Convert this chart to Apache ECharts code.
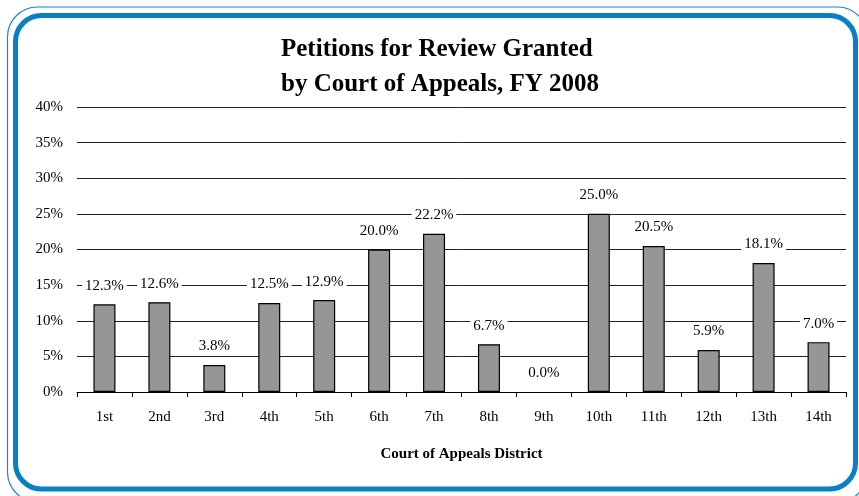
<!DOCTYPE html>
<html><head><meta charset="utf-8">
<script src="https://cdn.jsdelivr.net/npm/echarts@6/dist/echarts.min.js"></script>
<style>html,body{margin:0;padding:0;background:#fff}#c{width:859px;height:496px}</style>
</head><body><div id="c"></div>
<script>
const categories = ['1st','2nd','3rd','4th','5th','6th','7th','8th','9th','10th','11th','12th','13th','14th'];
const values = [12.3, 12.6, 3.8, 12.5, 12.9, 20.0, 22.2, 6.7, 0.0, 25.0, 20.5, 5.9, 18.1, 7.0];
const yTicks = [0, 5, 10, 15, 20, 25, 30, 35, 40];
const titleLines = ['Petitions for Review Granted', 'by Court of Appeals, FY 2008'];
const xAxisTitle = 'Court of Appeals District';

const chart = echarts.init(document.getElementById('c'));
const F = 'Liberation Serif';
chart.setOption({
  animation: false,
  textStyle: { fontFamily: F },
  title: {
    text: titleLines.join('\n'),
    left: 276, top: 27,
    textAlign: 'left',
    textStyle: { fontFamily: F, fontSize: 25, fontWeight: 'bold', color: '#000', lineHeight: 35, align: 'center' }
  },
  graphic: [
    { type: 'rect', shape: { x: 7.5, y: 7, width: 860, height: 495, r: 30 }, style: { fill: 'none', stroke: '#1a86c8', lineWidth: 1.2 }, silent: true },
    { type: 'rect', shape: { x: 15.5, y: 15.5, width: 840, height: 473.5, r: 26 }, style: { fill: 'none', stroke: '#0a7fc4', lineWidth: 5 }, silent: true }
  ],
  grid: { left: 77, right: 13, top: 107, bottom: 104 },
  xAxis: {
    type: 'category', data: categories,
    name: xAxisTitle, nameLocation: 'middle', nameGap: 55,
    nameTextStyle: { fontFamily: F, fontSize: 15, fontWeight: 'bold', color: '#000' },
    axisLine: { lineStyle: { color: '#000', width: 1 } },
    axisTick: { show: true, length: 5, lineStyle: { color: '#000' } },
    axisLabel: { fontFamily: F, fontSize: 15, color: '#000', margin: 18 }
  },
  yAxis: {
    type: 'value', min: 0, max: 40, interval: 5,
    axisLine: { show: false }, axisTick: { show: false },
    axisLabel: { fontFamily: F, fontSize: 15, color: '#000', margin: 14,
      formatter: v => yTicks.includes(v) ? v + '%' : '' },
    splitLine: { lineStyle: { color: '#222', width: 1 } }
  },
  series: [{
    type: 'bar',
    data: values.map(v => v === 0 ? { value: v, itemStyle: { borderWidth: 0 } } : v),
    barWidth: 22,
    itemStyle: { color: '#969696', borderColor: '#000', borderWidth: 1.2 },
    label: {
      show: true, position: 'top', distance: 10,
      formatter: p => p.value.toFixed(1) + '%',
      fontFamily: F, fontSize: 15, color: '#000',
      backgroundColor: '#fff', padding: [1, 3]
    }
  }]
});
</script></body></html>
